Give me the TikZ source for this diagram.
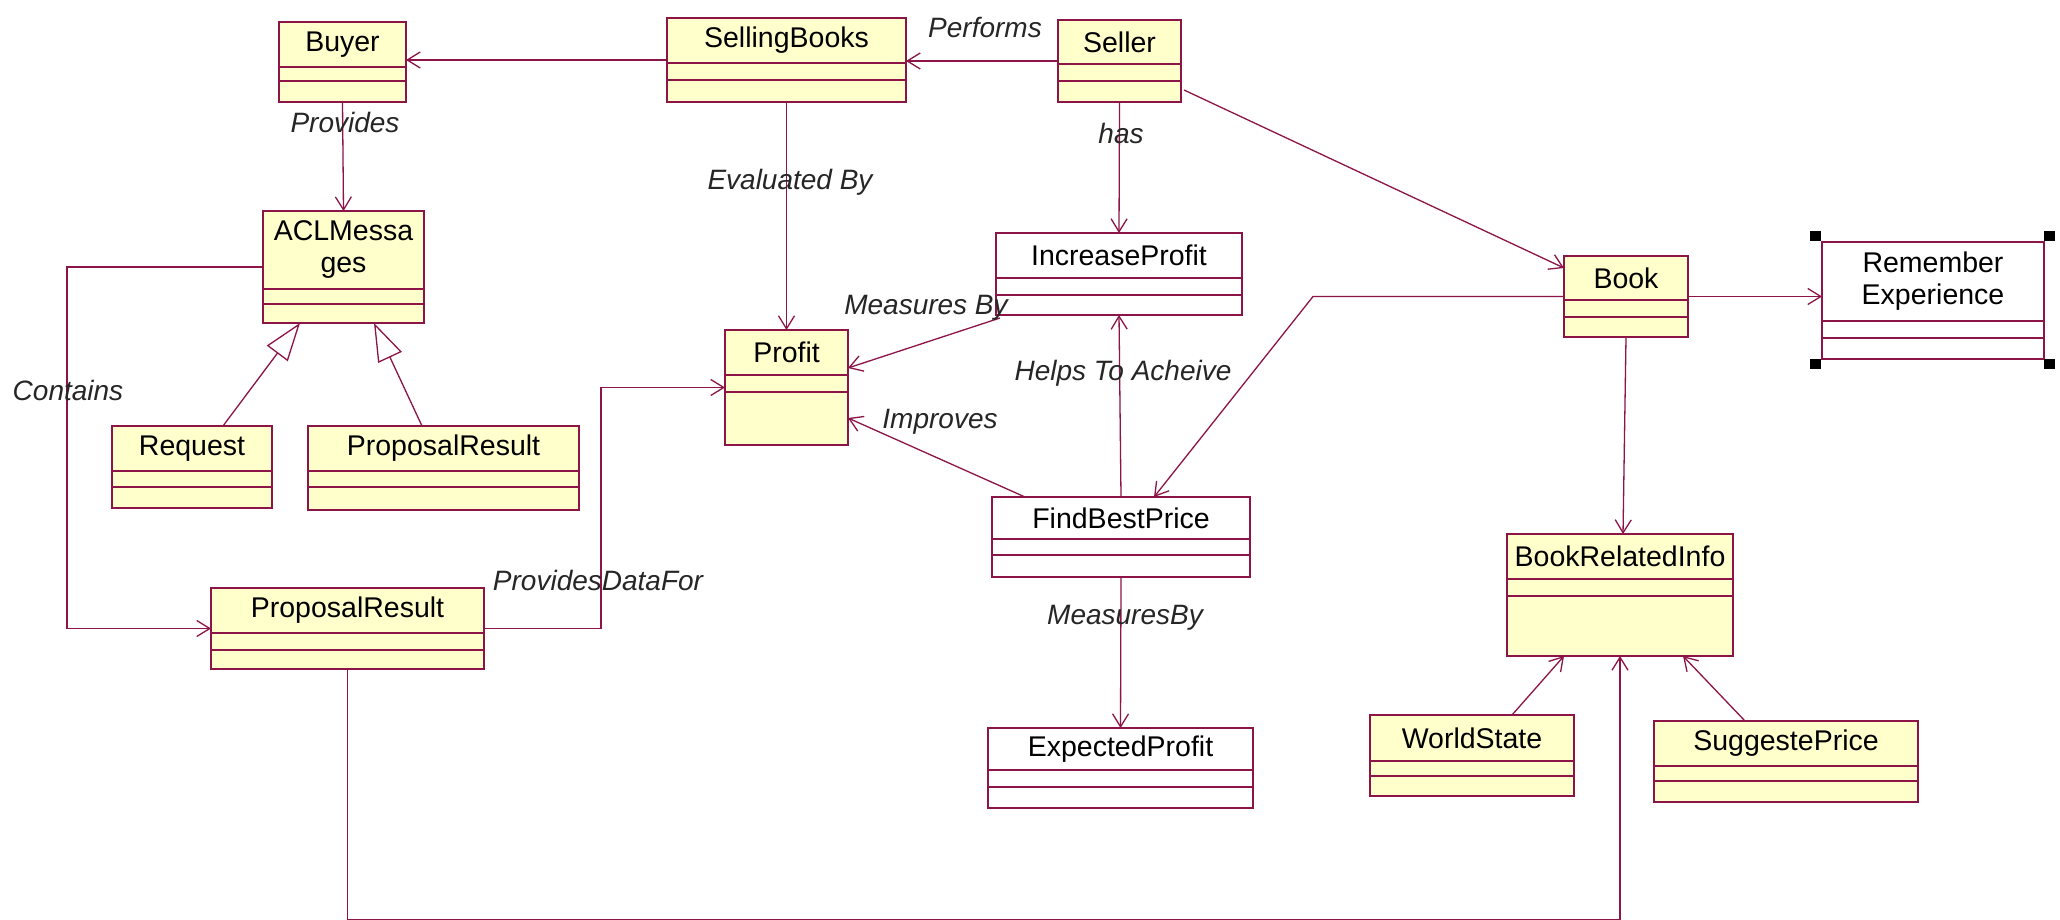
\documentclass[tikz,border=0pt]{standalone}
\usepackage{fontspec}
\setmainfont{Liberation Sans}
\usetikzlibrary{arrows.meta,calc}
\definecolor{umlline}{RGB}{140,20,70}
\definecolor{umlfill}{RGB}{255,255,204}
\tikzset{
 clsbox/.style={draw=umlline, line width=1.6pt, inner sep=0pt, outer sep=0pt, rectangle},
 yel/.style={fill=umlfill},
 wht/.style={fill=white},
 divline/.style={draw=umlline, line width=1.6pt},
 clsname/.style={font=\fontsize{28.5}{32}\selectfont, inner sep=0pt, align=center, text=black},
 lbl/.style={font=\fontsize{28}{32}\selectfont\itshape, inner sep=0pt, text=black!85},
 assoc/.style={draw=umlline, line width=1.3pt, -{Straight Barb[length=13pt,width=16pt,line width=1.3pt]}},
 gen/.style={draw=umlline, line width=1.3pt, -{Triangle[open,length=38pt,width=26pt,fill=white,line width=1.3pt]}},
 handle/.style={fill=black, inner sep=0pt, minimum width=11pt, minimum height=10pt}
}
\newcommand{\umlcls}[9]{%
 \node[clsbox,#8,minimum width={#4-#2},minimum height={#5-#3},anchor=north west] (#1) at (#2,#3) {};
 \draw[divline] (#2,#6) -- (#4,#6);
 \draw[divline] (#2,#7) -- (#4,#7);
 \node[clsname] (#1-name) at ({(#2+#4)/2},{(#3+#6)/2}) {#9};
}
\begin{document}
\begin{tikzpicture}[x=1pt,y=-1pt]
\useasboundingbox[fill=white] (0,0) rectangle (2060,920);
% classes
\umlcls{buyer}{279}{22}{406}{102}{67}{81}{yel}{Buyer}
\umlcls{selling}{667}{18}{906}{102}{63}{80}{yel}{SellingBooks}
\umlcls{seller}{1058}{20}{1181}{102}{64}{81}{yel}{Seller}
\umlcls{acl}{263}{211}{424}{323}{289}{304}{yel}{ACLMessa\\ges}
\umlcls{incp}{996}{233}{1242}{315}{278}{295}{wht}{IncreaseProfit}
\umlcls{book}{1564}{256}{1688}{337}{300}{317}{yel}{Book}
\umlcls{rem}{1822}{242}{2044}{359}{321}{338}{wht}{Remember\\Experience}
\umlcls{profit}{725}{330}{848}{445}{375}{392}{yel}{Profit}
\umlcls{request}{112}{426}{272}{508}{471}{487}{yel}{Request}
\umlcls{pr1}{308}{426}{579}{510}{471}{487}{yel}{ProposalResult}
\umlcls{fbp}{992}{497}{1250}{577}{539}{555}{wht}{FindBestPrice}
\umlcls{bri}{1507}{534}{1733}{656}{579}{596}{yel}{BookRelatedInfo}
\umlcls{pr2}{211}{588}{484}{669}{633}{650}{yel}{ProposalResult}
\umlcls{ws}{1370}{715}{1574}{796}{761}{776}{yel}{WorldState}
\umlcls{sp}{1654}{721}{1918}{802}{766}{781}{yel}{SuggestePrice}
\umlcls{exp}{988}{728}{1253}{808}{770}{787}{wht}{ExpectedProfit}
% selection handles
\node[handle] (h1) at (1815,236) {};
\node[handle] (h2) at (2049,236) {};
\node[handle] (h3) at (1815,364) {};
\node[handle] (h4) at (2049,364) {};
% connectors
\draw[assoc] (selling.west) -- (selling.west -| buyer.east);
\draw[assoc] (seller.west) -- (seller.west -| selling.east);
\draw[assoc] (buyer.south) -- (acl.north);
\draw[assoc] (selling.south) -- (profit.north);
\draw[assoc] (seller.south) -- (incp.north);
\draw[assoc] ([xshift=3pt,yshift=12pt]seller.south east) -- ([yshift=-12pt]book.north west);
\draw[assoc] ([xshift=4pt,yshift=-3pt]incp.south west) -- ([yshift=19.5pt]profit.east);
\draw[assoc] (pr2.east) -- ++(117,0) |- (profit.west);
\draw[assoc] ([xshift=33pt]fbp.north west) -- ([yshift=-30.5pt]profit.east);
\draw[assoc] (fbp.north) -- (incp.south);
\draw[assoc] (book.west) -- ++(-251,0) -- ([xshift=33pt]fbp.north);
\draw[assoc] (book.east) -- (book.east -| rem.west);
\draw[assoc] (book.south) -- ([xshift=3pt]bri.north);
\draw[assoc] (fbp.south) -- (exp.north);
\draw[assoc] ([xshift=40pt]ws.north) -- ([xshift=-56pt]bri.south);
\draw[assoc] ([xshift=-41pt]sp.north) -- ([xshift=63pt]bri.south);
\draw[assoc] (pr2.south) -- ++(0,251) -| (bri.south);
\draw[assoc] (acl.west) -- ++(-196,0) |- (pr2.west);
\draw[gen] ([xshift=31pt]request.north) -- ([xshift=-43.5pt]acl.south);
\draw[gen] ([xshift=-21.5pt]pr1.north) -- ([xshift=30.5pt]acl.south);
% labels
\node[lbl] (l-performs) at (985,27) {Performs};
\node[lbl] (l-provides) at (345,122) {Provides};
\node[lbl] (l-evaluated) at (790,182) {Evaluated By};
\node[lbl] (l-has) at (1121,133) {has};
\node[lbl] (l-measures) at (926,308) {Measures By};
\node[lbl] (l-helps) at (1123,373) {Helps To Acheive};
\node[lbl] (l-contains) at (68,390) {Contains};
\node[lbl] (l-improves) at (940,422) {Improves};
\node[lbl] (l-pdf) at (598,580) {ProvidesDataFor};
\node[lbl] (l-measuresby) at (1125,618) {MeasuresBy};
\end{tikzpicture}
\end{document}
